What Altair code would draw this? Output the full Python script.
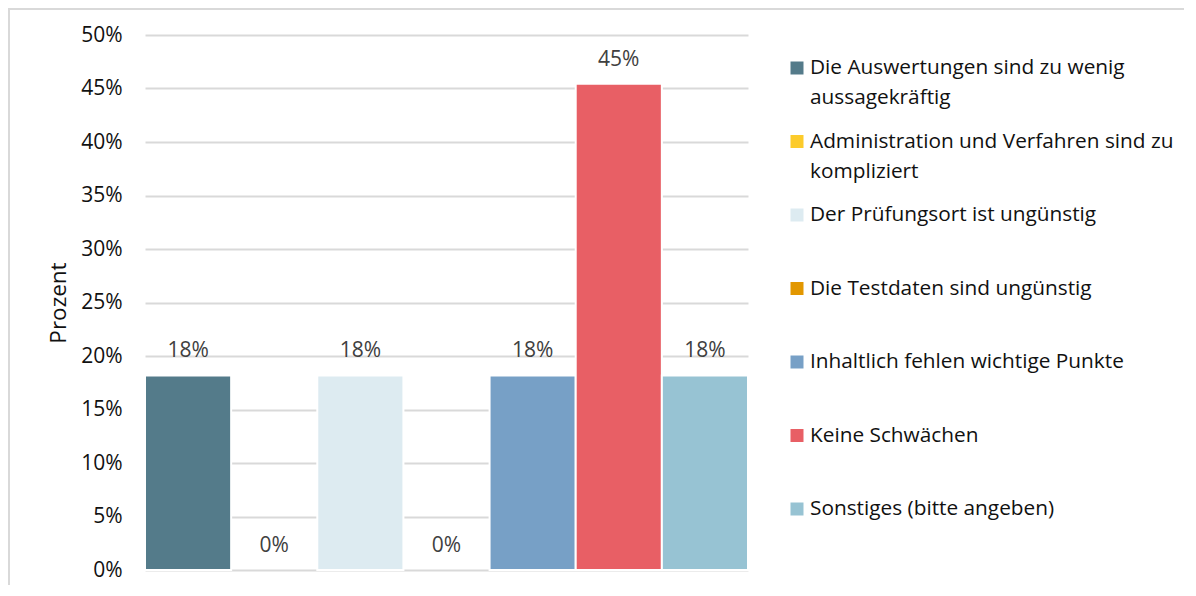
import altair as alt
import pandas as pd

# ---- data ----
categories = [
    "Die Auswertungen sind zu wenig aussagekräftig",
    "Administration und Verfahren sind zu kompliziert",
    "Der Prüfungsort ist ungünstig",
    "Die Testdaten sind ungünstig",
    "Inhaltlich fehlen wichtige Punkte",
    "Keine Schwächen",
    "Sonstiges (bitte angeben)",
]
shares = [0.1818, 0.0, 0.1818, 0.0, 0.1818, 0.4545, 0.1818]
legend_lines = [
    "Die Auswertungen sind zu wenig\naussagekräftig",
    "Administration und Verfahren sind zu\nkompliziert",
    "Der Prüfungsort ist ungünstig",
    "Die Testdaten sind ungünstig",
    "Inhaltlich fehlen wichtige Punkte",
    "Keine Schwächen",
    "Sonstiges (bitte angeben)",
]
colors = ["#547B8A", "#FCCB2B", "#DDEBF1", "#E29700", "#77A0C6", "#E85F65", "#97C3D3"]
tick_values = [0, 0.05, 0.10, 0.15, 0.20, 0.25, 0.30, 0.35, 0.40, 0.45, 0.50]

df = pd.DataFrame({"cat": categories, "value": shares, "legend": legend_lines})
frame_df = pd.DataFrame({"k": [0]})

FONT = "Open Sans"
W, H = 603, 535
PAD = {"left": 137, "top": 27, "right": 436, "bottom": 15}

color_enc = alt.Color("cat:N", scale=alt.Scale(domain=categories, range=colors), legend=None)
x_enc = alt.X("cat:N", sort=categories, axis=None,
              scale=alt.Scale(domain=categories, paddingInner=0, paddingOuter=0))

bars = alt.Chart(df).transform_filter("datum.value > 0").mark_bar(
    stroke="white", strokeWidth=2
).encode(
    x=x_enc,
    y=alt.Y("value:Q", scale=alt.Scale(domain=[0, 0.5], nice=False),
            axis=alt.Axis(values=tick_values, format=".0%", grid=True,
                          gridColor="#d9d9d9", gridWidth=1.8, domain=False,
                          ticks=False, tickSize=0, labelPadding=23,
                          labelFont=FONT, labelFontSize=21, labelColor="#111111",
                          title="Prozent", titleFont=FONT, titleFontSize=22.5,
                          titleFontWeight="normal", titleColor="#111111",
                          titlePadding=10)),
    color=color_enc,
)

labels = alt.Chart(df).mark_text(
    baseline="alphabetic", dy=-18, font=FONT, fontSize=21, color="#404040"
).encode(
    x=x_enc,
    y=alt.Y("value:Q", scale=alt.Scale(domain=[0, 0.5], nice=False), axis=None),
    text=alt.Text("value:Q", format=".0%"),
)

leg_y = alt.Y("cat:N", sort=categories, axis=None,
              scale=alt.Scale(type="point", domain=categories, range=[33, 474], padding=0))

leg_sq = alt.Chart(df).mark_square(size=169, opacity=1).encode(
    x=alt.value(652), y=leg_y, color=color_enc
)
leg_txt = alt.Chart(df).mark_text(
    align="left", baseline="top", dy=-10, lineBreak="\n", lineHeight=30,
    font=FONT, fontSize=20.8, color="#111111"
).encode(
    x=alt.value(665), y=leg_y, text="legend:N"
)

frame_top = alt.Chart(frame_df).mark_rule(color="#d9d9d9", strokeWidth=2).encode(
    x=alt.value(-PAD["left"]), x2=alt.value(W + PAD["right"]), y=alt.value(-PAD["top"] + 1)
)
frame_left = alt.Chart(frame_df).mark_rule(color="#d9d9d9", strokeWidth=2).encode(
    x=alt.value(-PAD["left"] + 1), y=alt.value(-PAD["top"]), y2=alt.value(H + PAD["bottom"])
)

chart = alt.layer(bars, labels, leg_sq, leg_txt, frame_top, frame_left).resolve_scale(
    y="independent"
).properties(
    width=W, height=H,
    autosize=alt.AutoSizeParams(type="none"),
    padding=PAD,
    background="white",
).configure(font=FONT).configure_view(stroke="transparent", strokeWidth=0)

chart.save("out.html", embed_options={"renderer": "svg", "actions": False})
